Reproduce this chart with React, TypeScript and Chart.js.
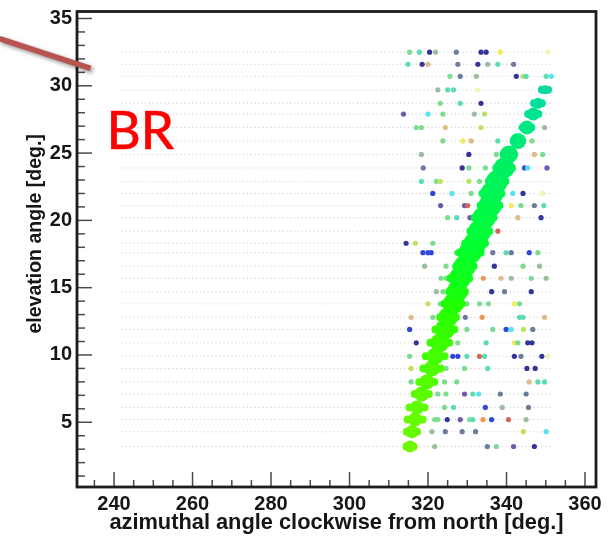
import React, { useEffect, useRef } from "react";
import { Chart, registerables } from "chart.js";

Chart.register(...registerables);

// ---- axes ----
const xRange = [230.56, 362.8];
const yRange = [0.19, 35.52];
const xLabelTicks = [240, 260, 280, 300, 320, 340, 360];
const yLabelTicks = [5, 10, 15, 20, 25, 30, 35];
const xMinorTicks = [235, 245, 250, 255, 265, 270, 275, 285, 290, 295, 305, 310, 315, 325, 330, 335, 345, 350, 355];
const yMinorTicks = [1, 2, 3, 4, 6, 7, 8, 9, 11, 12, 13, 14, 16, 17, 18, 19, 21, 22, 23, 24, 26, 27, 28, 29, 31, 32, 33, 34];
const xTitle = "azimuthal angle clockwise from north [deg.]";
const yTitle = "elevation angle [deg.]";

// ---- faint scan grid ----
const gridEl = [3.2, 4.3, 5.2, 6.1, 7.1, 8, 9, 9.9, 10.9, 11.9, 12.8, 13.8, 14.7, 15.7, 16.6, 17.6, 18.3, 19.2, 20.2, 21.1, 22, 22.9, 23.9, 24.9, 25.9, 26.9, 27.9, 28.7, 29.7, 30.7, 31.6, 32.5];
const gridAz = [242, 243, 244, 245, 246, 247, 248, 249, 250, 251, 252, 253, 254, 255, 256, 257, 258, 259, 260, 261, 262, 263, 264, 265, 266, 267, 268, 269, 270, 271, 272, 273, 274, 275, 276, 277, 278, 279, 280, 281, 282, 283, 284, 285, 286, 287, 288, 289, 290, 291, 292, 293, 294, 295, 296, 297, 298, 299, 300, 301, 302, 303, 304, 305, 306, 307, 308, 309, 310, 311, 312, 313, 314, 315, 316, 317, 318, 319, 320, 321, 322, 323, 324, 325, 326, 327, 328, 329, 330, 331, 332, 333, 334, 335, 336, 337, 338, 339, 340, 341, 342, 343, 344, 345, 346, 347, 348, 349, 350, 351];

// ---- the bright band, one entry per elevation row ----
const bandEl = [3.2, 4.3, 5.2, 6.1, 7.1, 8, 9, 9.9, 10.9, 11.9, 12.8, 13.8, 14.7, 15.7, 16.6, 17.6, 18.3, 19.2, 20.2, 21.1, 22, 22.9, 23.9, 24.9, 25.9, 26.9, 27.9, 28.7, 29.7];
const bandAz = [315.4, 315.9, 316.7, 317.2, 318.4, 319.7, 321, 321.8, 323, 324.3, 325.1, 326.4, 327.4, 328.1, 329.4, 330.7, 332, 333.2, 334.3, 335.8, 336.3, 337.6, 339.4, 340.6, 342.9, 345.2, 346.8, 348, 349.8];
const bandHalf = [0.9, 1.3, 1.9, 1.9, 1.8, 1.9, 2.2, 2.4, 2.4, 2.4, 2.0, 2.2, 2.0, 2.4, 2.2, 2.7, 2.5, 2.4, 2.4, 2.4, 2.4, 2.1, 2.0, 1.3, 1.1, 1.1, 1.3, 1, 0.8];
const bandRadius = [6, 6.5, 7, 7, 7.5, 7.5, 8, 8.5, 9.5, 10, 10, 10.5, 10.5, 11, 11, 11.5, 11.5, 11.5, 11.5, 11.5, 11.5, 11, 10.5, 9, 8, 7, 6.5, 5.5, 4.5];
const bandColor = ["#70f800", "#68fa00", "#66fc00", "#60fc00", "#5cfc00", "#54fe00", "#4cfe00", "#44ff00", "#3cff00", "#34ff00", "#2cff00", "#22ff00", "#18ff10", "#10ff18", "#0cff20", "#08ff28", "#04ff30", "#00ff38", "#00fc40", "#00f848", "#00f650", "#00f458", "#00f060", "#00ee6c", "#00ec78", "#00e884", "#00e490", "#00e09c", "#10d8a0"];

// ---- the scattered coloured dots, row by row ----
const speckleEl = [32.5, 31.6, 30.7, 29.7, 28.7, 27.9, 26.9, 25.9, 24.9, 23.9, 22.9, 22, 21.1, 20.2, 19.2, 18.3, 17.6, 16.6, 15.7, 14.7, 13.8, 12.8, 11.9, 10.9, 9.9, 9, 8, 7.1, 6.1, 5.2, 4.3, 3.2];
const speckleAz = [
  [315.3, 317.8, 320.4, 321.9, 327.2, 333.5, 334.8, 338.4, 350.5],
  [314.9, 318.5, 320, 327.6, 332.7, 335.2, 337.8, 341.8],
  [325.6, 328.2, 332.3, 342.5, 344.2, 345, 350.1, 351.4],
  [322.5, 325, 326.5, 332.7],
  [323.1, 328.2, 333.5],
  [313.75, 320, 323.8, 331.8, 334.4],
  [317, 318.3, 324.4, 333.5, 349.7],
  [323.8, 328.9, 331, 337.8, 346.5],
  [318.3, 330.4, 337.4, 347.1, 349.2],
  [318.8, 328.7, 330.4, 334.6, 344.6, 345.4, 350.3],
  [318.3, 322.1, 323.1, 330.4, 333.1],
  [321.2, 326.1, 331, 341.6, 344.2, 349.2],
  [323.2, 329.3, 330.1, 341.2, 343.7, 347.1, 349.5],
  [325, 327.3, 330.7, 342.9, 348.8],
  [337.8],
  [314.4, 316.8, 321.2],
  [318.7, 320, 320.8, 327.2, 336.5, 339.9, 341.2, 345.8, 348],
  [319.1, 324.6, 336.9, 344.2, 348.4],
  [323.3, 324.6, 334.1, 338.6, 341.2, 346.3, 350.1],
  [322.1, 323.8, 336.2, 339.5, 346.3],
  [320, 323.1, 329.9, 333.1, 335.4, 342, 343.3],
  [315.7, 321.2, 329.5, 333.8, 343.3, 344.2, 349.7],
  [315.3, 329.9, 336.5, 339.9, 341.2, 344.3, 346.7],
  [317, 327.6, 334.8, 342, 342.9, 345.4, 346.5],
  [315.3, 326.3, 327.6, 329.9, 333.1, 334.4, 342, 343.7, 349, 350.5],
  [315.7, 324.6, 329.3, 335.2, 345.2, 347.3],
  [315.7, 324.2, 327.3, 345.8, 348, 349.7],
  [322.5, 324.6, 329.3, 331.4, 332.9, 338.4, 345],
  [324.2, 326.5, 334.6, 338.9, 345.6],
  [321.7, 322.5, 324.9, 328.2, 330.6, 331.4, 334, 336.2, 340.5, 345],
  [321, 324.4, 328.7, 332.1, 344.3, 350.1],
  [321.7, 335.1, 337.4, 341.8, 347.1],
];
const speckleTone = ["gtnasnnyw", "tnhsnats", "gsanlttc", "attw", "gtn", "pcgal", "gghla", "gyhtg", "anghg", "snggbcp", "tgllg", "bcgcnw", "pprygst", "gtphn", "r", "nlg", "bbbgstsbg", "agnga", "ggohaga", "agnsn", "lggggyg", "hgsotth", "bggbcls", "ngtygnn", "gbbtrtnsnw", "lggtnn", "ggghtt", "ggptcss", "gtbas", "ggnpgtobra", "assslc", "asgpn"];
const tonePalette: Record<string, string> = {
  n: "#34349a", b: "#3048d8", c: "#58e4ec", t: "#5cdcb4", g: "#7cdc90", l: "#bce460",
  y: "#f0ea60", h: "#dcbc88", o: "#f09850", r: "#d06858", p: "#7058ac", a: "#a0bca0",
  s: "#6c7c9c", w: "#f4f4b4",
};

// ---- overlay added on the slide ----
const overlayLabel = "BR";
const overlayLabelAt = [238.1, 25.3];
const pointerFrom = [210.8, 33.5];
const pointerTo = [234, 31.3];

const framePlugin = {
  id: "rootFrame",
  beforeDraw(chart: any) {
    const { ctx, width, height } = chart;
    ctx.save();
    ctx.fillStyle = "#ffffff";
    ctx.fillRect(0, 0, width, height);
    ctx.restore();
  },
  afterDraw(chart: any) {
    const { ctx, chartArea: a, scales, canvas, width, height } = chart;
    const { x, y } = scales;
    ctx.save();
    // inward ticks
    ctx.strokeStyle = "#4a4a4a";
    ctx.lineWidth = 1.5;
    const vTick = (v: number, len: number) => {
      const px = x.getPixelForValue(v);
      ctx.beginPath();
      ctx.moveTo(px, a.bottom);
      ctx.lineTo(px, a.bottom - len);
      ctx.stroke();
    };
    const hTick = (v: number, len: number) => {
      const py = y.getPixelForValue(v);
      ctx.beginPath();
      ctx.moveTo(a.left, py);
      ctx.lineTo(a.left + len, py);
      ctx.stroke();
    };
    xLabelTicks.forEach((v) => vTick(v, 15));
    xMinorTicks.forEach((v) => vTick(v, 7));
    yLabelTicks.forEach((v) => hTick(v, 15));
    yMinorTicks.forEach((v) => hTick(v, 8));
    // frame
    ctx.strokeStyle = "#1c1c1c";
    ctx.lineWidth = 2.8;
    ctx.strokeRect(a.left, a.top, a.right - a.left, a.bottom - a.top);
    // y title, centred where the source places it
    ctx.save();
    ctx.translate(36, y.getPixelForValue(19));
    ctx.rotate(-Math.PI / 2);
    ctx.fillStyle = "#161616";
    ctx.font = 'bold 19.5px "Liberation Sans"';
    ctx.textAlign = "center";
    ctx.textBaseline = "middle";
    ctx.fillText(yTitle, 0, 0);
    ctx.restore();
    // soften everything drawn so far, like the low-resolution source
    ctx.filter = "blur(0.7px)";
    ctx.drawImage(canvas, 0, 0, width, height);
    ctx.filter = "none";
    // slide overlay stays crisp
    ctx.save();
    ctx.shadowColor = "rgba(0,0,0,0.45)";
    ctx.shadowBlur = 4;
    ctx.shadowOffsetX = 2;
    ctx.shadowOffsetY = 2;
    ctx.strokeStyle = "#b85450";
    ctx.lineWidth = 5.5;
    ctx.beginPath();
    ctx.moveTo(x.getPixelForValue(pointerFrom[0]), y.getPixelForValue(pointerFrom[1]));
    ctx.lineTo(x.getPixelForValue(pointerTo[0]), y.getPixelForValue(pointerTo[1]));
    ctx.stroke();
    ctx.restore();
    ctx.fillStyle = "#ff0000";
    ctx.strokeStyle = "#ff0000";
    ctx.lineWidth = 0.7;
    ctx.font = '53px Lato, "Open Sans", sans-serif';
    ctx.textAlign = "left";
    ctx.textBaseline = "alphabetic";
    const lx = x.getPixelForValue(overlayLabelAt[0]);
    const ly = y.getPixelForValue(overlayLabelAt[1]);
    ctx.fillText(overlayLabel, lx, ly);
    ctx.strokeText(overlayLabel, lx, ly);
    ctx.restore();
  },
};

export default function App() {
  const ref = useRef<HTMLCanvasElement>(null);
  useEffect(() => {
    if (!ref.current) return;
    document.body.style.margin = "0";
    const gridPoints = gridEl.flatMap((el) => gridAz.map((az) => ({ x: az, y: el, r: 0.7 })));
    const specklePoints = speckleEl.flatMap((el, i) =>
      speckleAz[i].map((az, j) => ({ x: az, y: el, r: 2.6, tone: tonePalette[speckleTone[i][j]] }))
    );
    const bandCore = bandEl.map((el, i) => ({ x: bandAz[i], y: el, r: bandRadius[i], tone: bandColor[i] }));
    const bandSides = bandEl.flatMap((el, i) => [
      { x: bandAz[i] - bandHalf[i], y: el, r: 4, tone: bandColor[i] },
      { x: bandAz[i] + bandHalf[i], y: el, r: 4, tone: bandColor[i] },
    ]);
    const tone = (c: any) => c.raw?.tone;
    const noPad = (s: any) => {
      s.paddingTop = 0;
      s.paddingBottom = 0;
      s.paddingLeft = 0;
      s.paddingRight = 0;
    };
    const chart = new Chart(ref.current, {
      type: "bubble",
      data: {
        datasets: [
          { label: "band", data: bandCore, backgroundColor: tone, borderWidth: 0, order: 0 },
          { label: "band sides", data: bandSides, backgroundColor: tone, borderWidth: 0, order: 1 },
          { label: "speckles", data: specklePoints, backgroundColor: tone, borderWidth: 0, order: 2 },
          { label: "scan grid", data: gridPoints, backgroundColor: "#d6d6d6", borderWidth: 0, order: 3 },
        ] as any,
      },
      options: {
        responsive: false,
        animation: false,
        events: [],
        layout: { padding: { top: 10, right: 17, left: 0, bottom: 0 } },
        plugins: { legend: { display: false }, tooltip: { enabled: false } },
        scales: {
          x: {
            type: "linear",
            min: xRange[0],
            max: xRange[1],
            grid: { display: false, drawTicks: false },
            border: { display: false },
            afterBuildTicks(s: any) {
              s.ticks = xLabelTicks.map((value) => ({ value }));
            },
            afterFit(s: any) {
              s.height = 49;
              noPad(s);
            },
            ticks: {
              autoSkip: false,
              maxRotation: 0,
              padding: 5,
              color: "#161616",
              font: { family: '"Liberation Sans"', weight: "bold", size: 20 },
            },
            title: {
              display: true,
              text: xTitle,
              color: "#161616",
              padding: { top: 0, bottom: 0 },
              font: { family: '"Liberation Sans"', weight: "bold", size: 21.8 },
            },
          },
          y: {
            type: "linear",
            min: yRange[0],
            max: yRange[1],
            grid: { display: false, drawTicks: false },
            border: { display: false },
            afterBuildTicks(s: any) {
              s.ticks = yLabelTicks.map((value) => ({ value }));
            },
            afterFit(s: any) {
              s.width = 77;
              noPad(s);
            },
            ticks: {
              autoSkip: false,
              padding: 5,
              color: "#161616",
              font: { family: '"Liberation Sans"', weight: "bold", size: 20 },
            },
          },
        },
      } as any,
      plugins: [framePlugin],
    });
    return () => chart.destroy();
  }, []);
  return (
    <div style={{ width: 613, height: 536 }}>
      <canvas ref={ref} width={613} height={536} style={{ display: "block" }} />
    </div>
  );
}
